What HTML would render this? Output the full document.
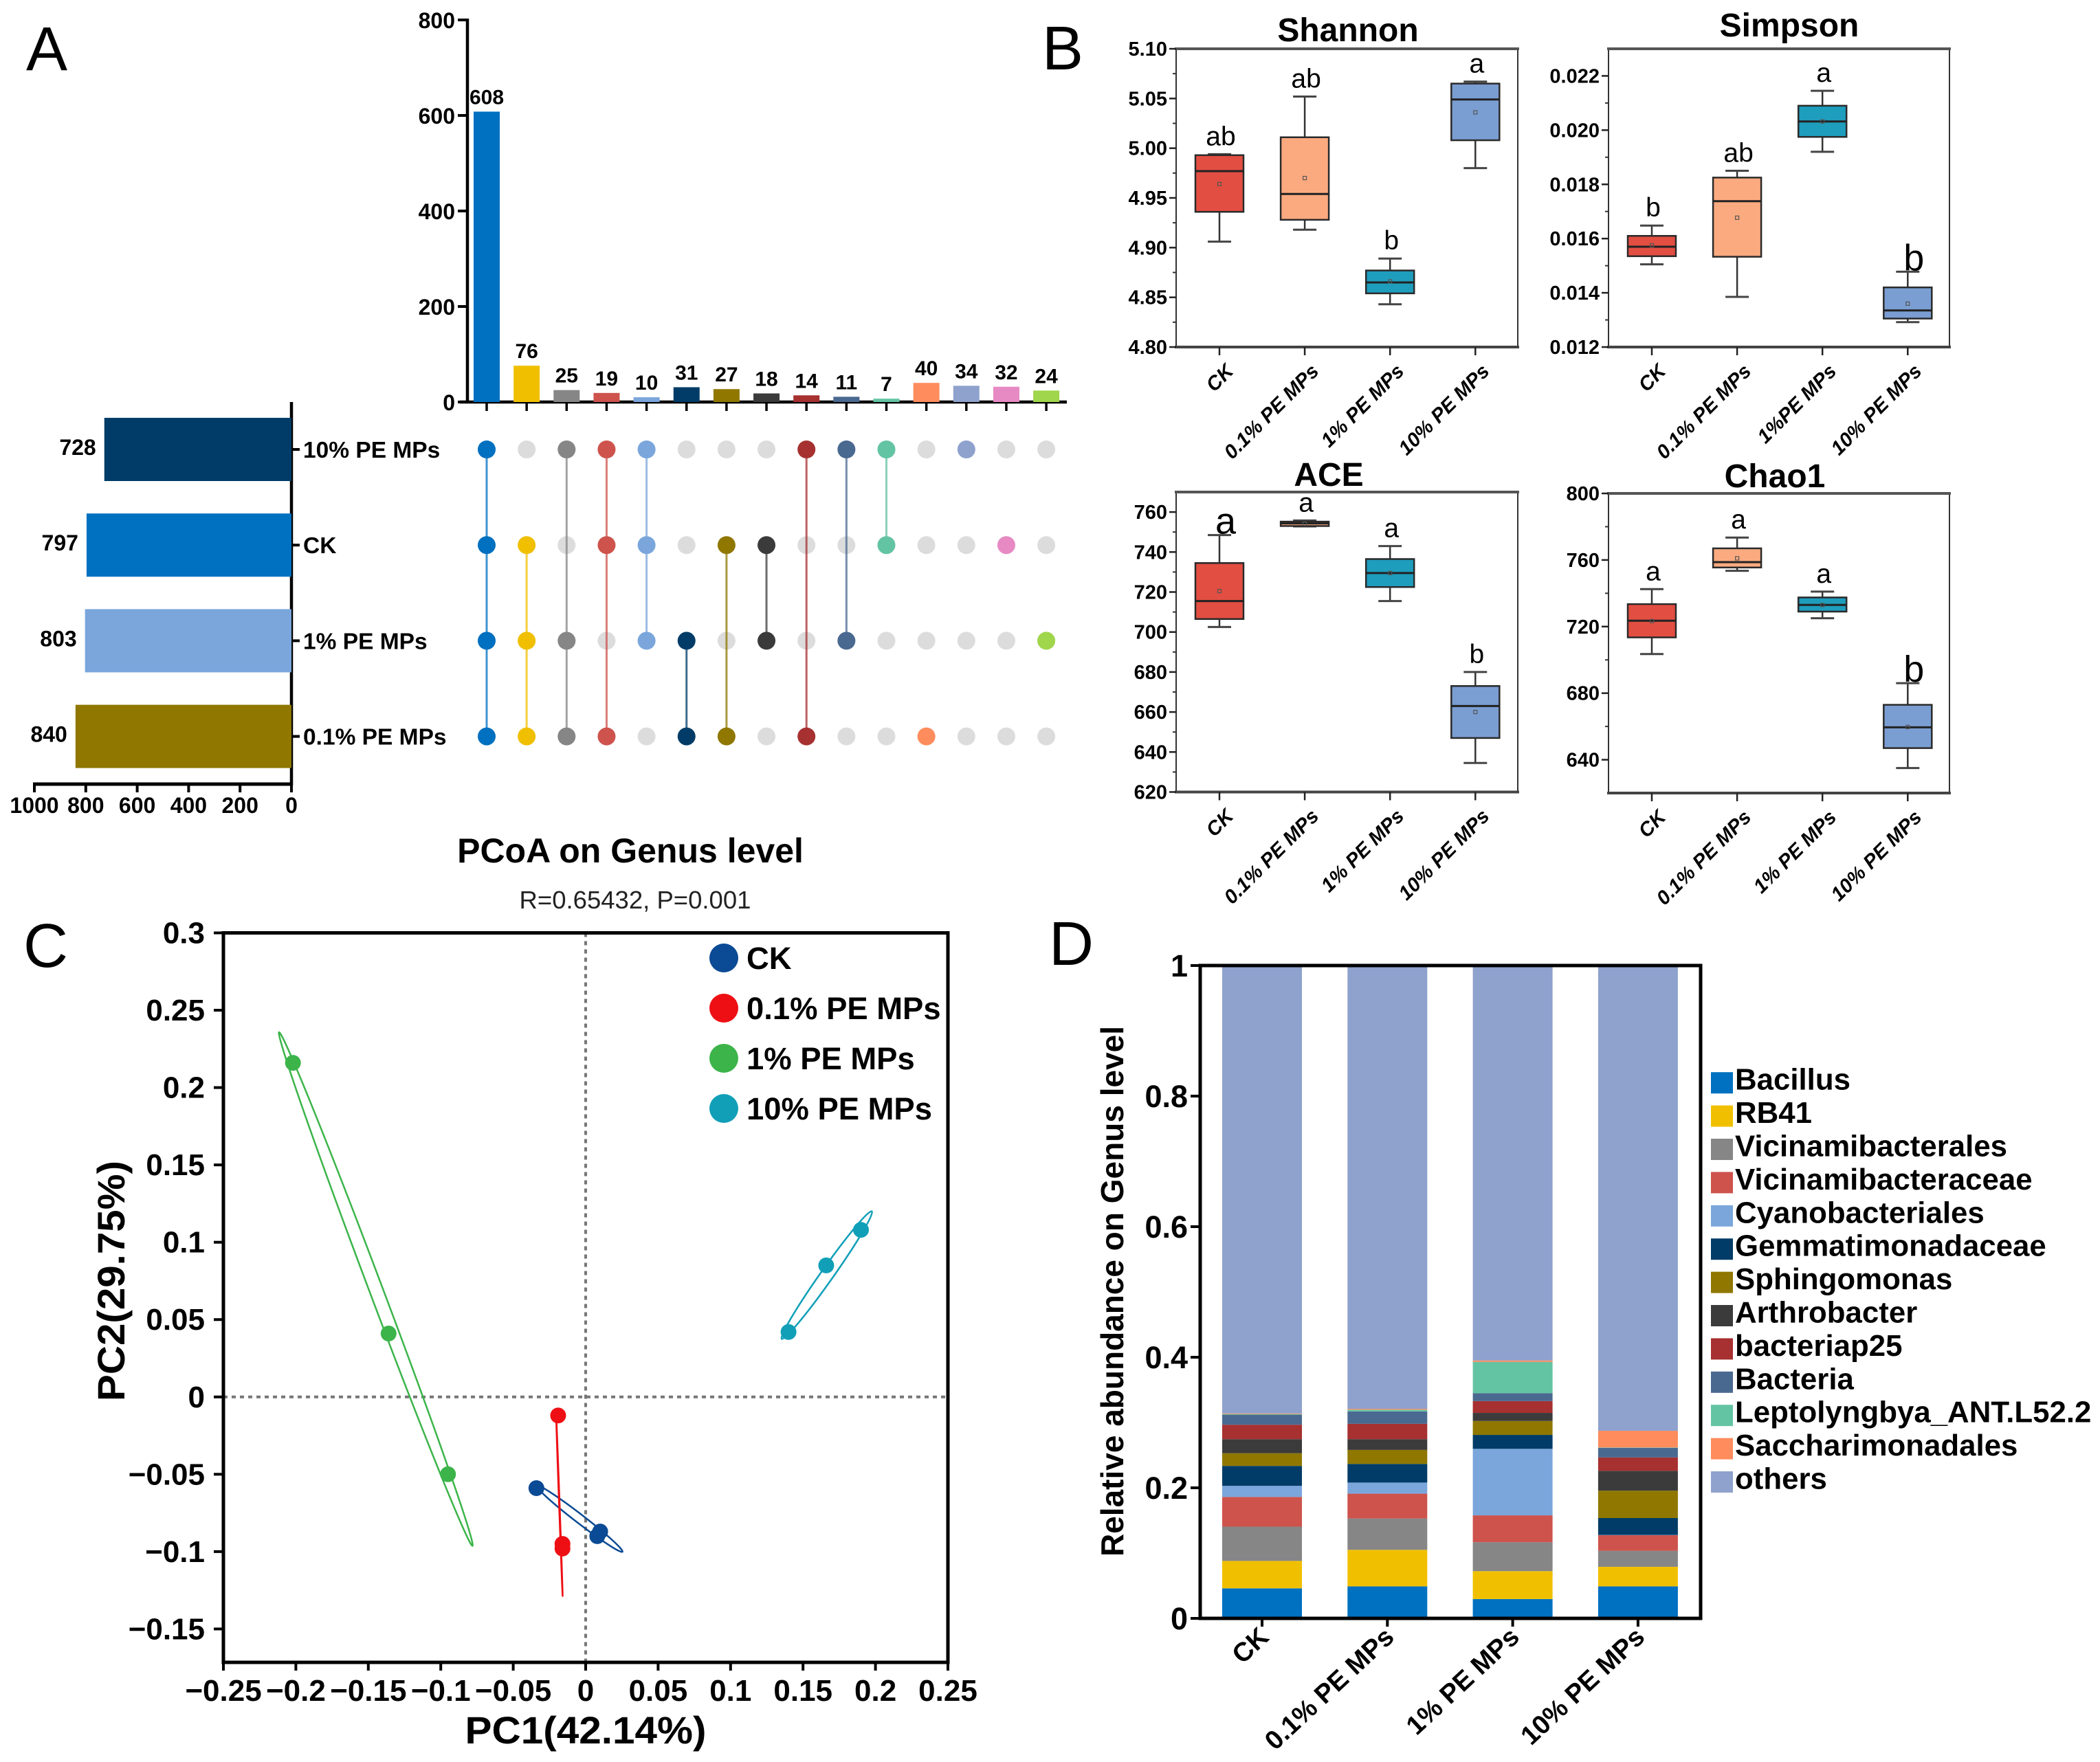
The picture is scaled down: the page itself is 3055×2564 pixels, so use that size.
<!DOCTYPE html>
<html lang="en">
<head>
<meta charset="utf-8">
<title>PE MPs microbial community figure</title>
<style>
html,body{margin:0;padding:0;background:#fff;}
svg{display:block;font-family:"Liberation Sans",sans-serif;}
</style>
</head>
<body>
<svg id="fig" xmlns="http://www.w3.org/2000/svg" width="3055" height="2564" viewBox="0 0 3055 2564">
  <rect x="0" y="0" width="3055" height="2564" fill="#fff"/>
  <text x="38" y="102" font-size="90">A</text>
  <text x="1516" y="101" font-size="90">B</text>
  <text x="34" y="1407" font-size="90">C</text>
  <text x="1526" y="1404" font-size="90">D</text>

  <text x="1961" y="60" font-size="48" font-weight="bold" text-anchor="middle">Shannon</text>
  <text x="2603" y="53" font-size="48" font-weight="bold" text-anchor="middle">Simpson</text>
  <text x="1933" y="707" font-size="48" font-weight="bold" text-anchor="middle">ACE</text>
  <text x="2582" y="709" font-size="48" font-weight="bold" text-anchor="middle">Chao1</text>

  <text x="917" y="1255" font-size="50" font-weight="bold" text-anchor="middle">PCoA on Genus level</text>
  <text x="924" y="1322" font-size="36.5" fill="#222" text-anchor="middle">R=0.65432, P=0.001</text>
  <text x="852" y="2537" font-size="56" font-weight="bold" text-anchor="middle" textLength="351" lengthAdjust="spacingAndGlyphs">PC1(42.14%)</text>
  <text transform="translate(181 1864) rotate(-90)" font-size="56" font-weight="bold" text-anchor="middle" textLength="350" lengthAdjust="spacingAndGlyphs">PC2(29.75%)</text>
  <text transform="translate(1634 1879) rotate(-90)" font-size="46" font-weight="bold" text-anchor="middle">Relative abundance on Genus level</text>
  <g id="panel-a"></g>
  <g id="panel-b"></g>
  <g id="panel-c"></g>
  <g id="panel-d"></g>
</svg>
<script>
/* ---------- Panel A data ---------- */
const upsetCounts = [608, 76, 25, 19, 10, 31, 27, 18, 14, 11, 7, 40, 34, 32, 24];
const upsetTicks = [0, 200, 400, 600, 800];
const upsetSets = ['10% PE MPs', 'CK', '1% PE MPs', '0.1% PE MPs'];
const upsetSetSizes = [728, 797, 803, 840];
const upsetSizeTicks = [0, 200, 400, 600, 800, 1000];
const upsetMembers = [
  [0, 1, 2, 3], [1, 2, 3], [0, 2, 3], [0, 1, 3], [0, 1, 2],
  [2, 3], [1, 3], [1, 2], [0, 3], [0, 2], [0, 1],
  [3], [0], [1], [2]
];
const upsetColors = ['#0070c0', '#f0c000', '#868686', '#cd534c', '#7aa6dc', '#003c67', '#8f7700', '#3b3b3b', '#a73030', '#4a6990', '#63c4a4', '#ff8c5c', '#8fa1cd', '#e78ac3', '#a0d64b'];
const upsetSetColors = ['#003c67', '#0070c0', '#7aa6dc', '#8f7700'];

/* ---------- Panel B data ---------- */
const boxCategories = ['CK', '0.1% PE MPs', '1% PE MPs', '10% PE MPs'];
const simpsonCategories = ['CK', '0.1% PE MPs', '1%PE MPs', '10% PE MPs'];
const boxColors = ['#e24e42', '#fbaa80', '#1e9dbd', '#7a9ed2'];

const shannonLow = [4.906, 4.918, 4.843, 4.980];
const shannonQ1 = [4.936, 4.928, 4.854, 5.008];
const shannonMedian = [4.977, 4.954, 4.865, 5.049];
const shannonQ3 = [4.993, 5.011, 4.877, 5.065];
const shannonHigh = [4.994, 5.052, 4.889, 5.067];
const shannonMean = [4.964, 4.970, 4.866, 5.036];
const shannonSig = ['ab', 'ab', 'b', 'a'];
const shannonTicks = ['4.80', '4.85', '4.90', '4.95', '5.00', '5.05', '5.10'];

const simpsonLow = [0.01505, 0.01385, 0.0192, 0.01292];
const simpsonQ1 = [0.01535, 0.01533, 0.01975, 0.01305];
const simpsonMedian = [0.0157, 0.01738, 0.02032, 0.01335];
const simpsonQ3 = [0.0161, 0.01825, 0.0209, 0.0142];
const simpsonHigh = [0.01648, 0.0185, 0.02145, 0.01478];
const simpsonMean = [0.01575, 0.01677, 0.02032, 0.0136];
const simpsonSig = ['b', 'ab', 'a', 'b'];
const simpsonTicks = ['0.012', '0.014', '0.016', '0.018', '0.020', '0.022'];

const aceLow = [702.5, 752.8, 715.5, 634.5];
const aceQ1 = [706.5, 753, 722.5, 647];
const aceMedian = [715.5, 754.3, 729.5, 663];
const aceQ3 = [734.5, 755.2, 736.5, 673];
const aceHigh = [748.5, 755.8, 743, 680];
const aceMean = [720.5, 754.2, 729.5, 660];
const aceSig = ['a', 'a', 'a', 'b'];
const aceTicks = ['620', '640', '660', '680', '700', '720', '740', '760'];

const chaoLow = [703.5, 753.5, 725, 635];
const chaoQ1 = [713.5, 755.5, 729, 647];
const chaoMedian = [723.5, 758.7, 733, 659.5];
const chaoQ3 = [733.5, 767, 737.5, 673];
const chaoHigh = [742.5, 773.5, 741, 686];
const chaoMean = [723.3, 761, 733, 659.7];
const chaoSig = ['a', 'a', 'a', 'b'];
const chaoTicks = ['640', '680', '720', '760', '800'];

/* ---------- Panel C data ---------- */
const pcoaGroups = ['CK', '0.1% PE MPs', '1% PE MPs', '10% PE MPs'];
const pcoaColors = ['#0b4a94', '#ee0f14', '#3cb44a', '#119fb8'];
const ckPC1 = [-0.034, 0.010, 0.008];
const ckPC2 = [-0.059, -0.087, -0.090];
const lowPC1 = [-0.019, -0.016, -0.016];
const lowPC2 = [-0.012, -0.095, -0.098];
const midPC1 = [-0.202, -0.136, -0.095];
const midPC2 = [0.216, 0.041, -0.050];
const highPC1 = [0.140, 0.166, 0.190];
const highPC2 = [0.042, 0.085, 0.108];
const ckEllipsePC1 = [-0.034, 0.0254];
const ckEllipsePC2 = [-0.0572, -0.1001];
const lowEllipsePC1 = [-0.0204, -0.0159];
const lowEllipsePC2 = [-0.0108, -0.1287];
const midEllipsePC1 = [-0.2116, -0.0781];
const midEllipsePC2 = [0.2358, -0.0963];
const highEllipsePC1 = [0.1353, 0.1975];
const highEllipsePC2 = [0.0375, 0.120];
const ellipseAspect = [0.08, 0.003, 0.0245, 0.08];
const pcoaXTicks = [-0.25, -0.2, -0.15, -0.1, -0.05, 0, 0.05, 0.1, 0.15, 0.2, 0.25];
const pcoaYTicks = [-0.15, -0.1, -0.05, 0, 0.05, 0.1, 0.15, 0.2, 0.25, 0.3];

/* ---------- Panel D data ---------- */
const genusCategories = ['CK', '0.1% PE MPs', '1% PE MPs', '10% PE MPs'];
const genusNames = ['Bacillus', 'RB41', 'Vicinamibacterales', 'Vicinamibacteraceae', 'Cyanobacteriales', 'Gemmatimonadaceae', 'Sphingomonas', 'Arthrobacter', 'bacteriap25', 'Bacteria', 'Leptolyngbya_ANT.L52.2', 'Saccharimonadales', 'others'];
const genusColors = ['#0070c0', '#f0c000', '#868686', '#cd534c', '#7aa6dc', '#003c67', '#8f7700', '#3b3b3b', '#a73030', '#4a6990', '#63c4a4', '#ff8c5c', '#8fa1cd'];
const bacillus = [0.046, 0.049, 0.0296, 0.049];
const rb41 = [0.042, 0.056, 0.0427, 0.030];
const vicinamibacterales = [0.0525, 0.048, 0.0444, 0.0245];
const vicinamibacteraceae = [0.0455, 0.038, 0.0411, 0.0239];
const cyanobacteriales = [0.017, 0.017, 0.1019, 0.0005];
const gemmatimonadaceae = [0.0305, 0.0286, 0.0213, 0.0258];
const sphingomonas = [0.0195, 0.0214, 0.0214, 0.0419];
const arthrobacter = [0.0215, 0.0165, 0.0123, 0.0304];
const bacteriap25 = [0.0221, 0.0235, 0.0181, 0.0205];
const bacteria = [0.0154, 0.019, 0.0122, 0.0148];
const leptolyngbya = [0.001, 0.0026, 0.0478, 0.0005];
const saccharimonadales = [0.001, 0.0014, 0.0022, 0.0255];
const others = [0.686, 0.679, 0.605, 0.7132];
const genusTicks = ['0', '0.2', '0.4', '0.6', '0.8', '1'];

/* ---------- helpers ---------- */
const NS = 'http://www.w3.org/2000/svg';
function add(parent, tag, attrs, name, text) {
  const el = document.createElementNS(NS, tag);
  for (const k in attrs) el.setAttribute(k, attrs[k]);
  
  
  if (text !== undefined) el.textContent = text;
  parent.appendChild(el);
  return el;
}
function line(p, x1, y1, x2, y2, stroke, w, name, extra) {
  return add(p, 'line', Object.assign({x1, y1, x2, y2, stroke, 'stroke-width': w}, extra || {}), name);
}
function scale(d0, d1, r0, r1) {
  return v => r0 + (v - d0) / (d1 - d0) * (r1 - r0);
}

/* ---------- Panel A ---------- */
(function () {
  const g = document.getElementById('panel-a');
  const y = scale(0, 800, 585, 29);
  const colX = i => 708 + i * 58.15;
  const rowY = i => 654 + i * 139.2;
  const sizeX = scale(0, 1000, 424, 50);

  line(g, 680, 27, 680, 587, '#000', 4.5, 'intersection-y-axis');
  line(g, 669, 585, 1552, 585, '#000', 4.5, 'intersection-x-axis');
  upsetTicks.forEach(t => {
    line(g, 666, y(t), 680, y(t), '#000', 4, 'intersection-y-tick');
    add(g, 'text', {x: 662, y: y(t) + 12, 'font-size': 32, 'font-weight': 'bold', 'text-anchor': 'end'}, 'intersection-y-tick-label', t);
  });
  upsetCounts.forEach((c, i) => {
    const x = colX(i);
    add(g, 'rect', {x: x - 19, y: y(c), width: 38, height: 585 - y(c), fill: upsetColors[i]}, 'intersection-bar');
    line(g, x, 587, x, 598, '#000', 3.5, 'intersection-x-tick');
    add(g, 'text', {x: x, y: y(c) - 11, 'font-size': 30, 'font-weight': 'bold', 'text-anchor': 'middle'}, 'intersection-count-label', c);
  });

  line(g, 424, 585, 424, 1143, '#000', 4.5, 'set-size-y-axis');
  line(g, 48, 1141, 426, 1141, '#000', 5, 'set-size-x-axis');
  upsetSizeTicks.forEach(t => {
    line(g, sizeX(t), 1141, sizeX(t), 1153, '#000', 4, 'set-size-x-tick');
    add(g, 'text', {x: sizeX(t), y: 1183, 'font-size': 32, 'font-weight': 'bold', 'text-anchor': 'middle'}, 'set-size-x-tick-label', t);
  });
  upsetSets.forEach((s, r) => {
    const yy = rowY(r);
    add(g, 'rect', {x: sizeX(upsetSetSizes[r]), y: yy - 46, width: 424 - sizeX(upsetSetSizes[r]), height: 92, fill: upsetSetColors[r]}, 'set-size-bar');
    add(g, 'text', {x: sizeX(upsetSetSizes[r]) - 12, y: yy + 8, 'font-size': 32, 'font-weight': 'bold', 'text-anchor': 'end'}, 'set-size-label', upsetSetSizes[r]);
    line(g, 426, yy, 436, yy, '#000', 4, 'set-row-tick');
    add(g, 'text', {x: 441, y: yy + 12, 'font-size': 33.5, 'font-weight': 'bold'}, 'set-row-label', s);
  });
  upsetMembers.forEach((members, i) => {
    const x = colX(i);
    upsetSets.forEach((s, r) => {
      add(g, 'circle', {cx: x, cy: rowY(r), r: 13, fill: '#dcdcdc'}, 'matrix-empty-dot');
    });
    if (members.length > 1) {
      const a = Math.min(...members), b = Math.max(...members);
      line(g, x, rowY(a), x, rowY(b), upsetColors[i], 3, 'matrix-connector', {opacity: 0.75});
    }
    members.forEach(r => {
      add(g, 'circle', {cx: x, cy: rowY(r), r: 13, fill: upsetColors[i]}, 'matrix-filled-dot');
    });
  });
})();

/* ---------- Panel B ---------- */
function boxPanel(o) {
  const g = add(document.getElementById('panel-b'), 'g', {}, o.name + '-boxplot');
  const y = scale(o.d0, o.d1, o.bottom, o.top);
  const cx = i => o.left + 63 + i * 124.1;

  add(g, 'rect', {x: o.left, y: o.top, width: o.right - o.left, height: o.bottom - o.top, fill: '#fff', stroke: '#333', 'stroke-width': 2}, o.name + '-frame');
  line(g, o.left - 2, o.top, o.right + 2, o.top, '#555', 4, o.name + '-top-border');
  line(g, o.left - 2, o.bottom, o.right + 2, o.bottom, '#444', 4, o.name + '-bottom-border');

  o.minor.forEach(v => {
    line(g, o.left - 5, y(v), o.left, y(v), '#333', 2, o.name + '-minor-tick');
  });
  o.ticks.forEach(t => {
    const v = parseFloat(t);
    line(g, o.left - 10, y(v), o.left, y(v), '#222', 2.5, o.name + '-y-tick');
    add(g, 'text', {x: o.left - 13, y: y(v) + 10, 'font-size': 29, 'font-weight': 'bold', 'text-anchor': 'end'}, o.name + '-y-tick-label', t);
  });

  o.cats.forEach((c, i) => {
    const x = cx(i);
    line(g, x, o.bottom, x, o.bottom + 12, '#222', 2.5, o.name + '-x-tick');
    const ax = x + 22, ay = o.bottom + 37;
    add(g, 'text', {x: ax, y: ay, 'font-size': 29, 'font-weight': 'bold', 'font-style': 'italic', 'text-anchor': 'end', transform: 'rotate(-45 ' + ax + ' ' + ay + ')'}, o.name + '-x-tick-label', c);

    line(g, x, y(o.high[i]), x, y(o.low[i]), '#333', 2.5, o.name + '-whisker');
    line(g, x - 17, y(o.high[i]), x + 17, y(o.high[i]), '#444', 3, o.name + '-whisker-cap-high');
    line(g, x - 17, y(o.low[i]), x + 17, y(o.low[i]), '#444', 3, o.name + '-whisker-cap-low');
    add(g, 'rect', {x: x - 35, y: y(o.q3[i]), width: 70, height: y(o.q1[i]) - y(o.q3[i]), fill: boxColors[i], stroke: '#2a2a2a', 'stroke-width': 2.5}, o.name + '-box');
    line(g, x - 35, y(o.median[i]), x + 35, y(o.median[i]), '#222', 3, o.name + '-median');
    add(g, 'rect', {x: x - 2.5, y: y(o.mean[i]) - 2.5, width: 5, height: 5, fill: 'none', stroke: '#555', 'stroke-width': 1.2}, o.name + '-mean-marker');

    const big = o.bigSig.indexOf(i) >= 0;
    add(g, 'text', {x: x + (big ? 9 : 2), y: y(o.high[i]) - (big ? 2 : 13), 'font-size': big ? 54 : 39, 'text-anchor': 'middle'}, o.name + '-significance-letter', o.sig[i]);
  });
}
boxPanel({name: 'shannon', left: 1711, right: 2208, top: 71, bottom: 505, d0: 4.8, d1: 5.1, cats: boxCategories,
  low: shannonLow, q1: shannonQ1, median: shannonMedian, q3: shannonQ3, high: shannonHigh, mean: shannonMean, sig: shannonSig, bigSig: [],
  ticks: shannonTicks, minor: [4.825, 4.875, 4.925, 4.975, 5.025, 5.075]});
boxPanel({name: 'simpson', left: 2340, right: 2836, top: 71, bottom: 505, d0: 0.012, d1: 0.023, cats: simpsonCategories,
  low: simpsonLow, q1: simpsonQ1, median: simpsonMedian, q3: simpsonQ3, high: simpsonHigh, mean: simpsonMean, sig: simpsonSig, bigSig: [3],
  ticks: simpsonTicks, minor: [0.013, 0.015, 0.017, 0.019, 0.021]});
boxPanel({name: 'ace', left: 1711, right: 2208, top: 716, bottom: 1152.5, d0: 620, d1: 770, cats: boxCategories,
  low: aceLow, q1: aceQ1, median: aceMedian, q3: aceQ3, high: aceHigh, mean: aceMean, sig: aceSig, bigSig: [0],
  ticks: aceTicks, minor: [630, 650, 670, 690, 710, 730, 750]});
boxPanel({name: 'chao1', left: 2340, right: 2836, top: 718, bottom: 1154, d0: 620, d1: 800, cats: boxCategories,
  low: chaoLow, q1: chaoQ1, median: chaoMedian, q3: chaoQ3, high: chaoHigh, mean: chaoMean, sig: chaoSig, bigSig: [3],
  ticks: chaoTicks, minor: [660, 700, 740, 780]});

/* ---------- Panel C ---------- */
(function () {
  const g = document.getElementById('panel-c');
  const left = 325, right = 1379, top = 1357.5, bottom = 2419;
  const x = scale(-0.25, 0.25, left, right);
  const y = scale(-0.1716, 0.3, bottom, top);
  const fmt = v => (v < 0 ? '\u2212' : '') + Math.abs(v);

  line(g, x(0), top, x(0), bottom, '#777', 4, 'pcoa-zero-vertical-line', {'stroke-dasharray': '6 6'});
  line(g, left, y(0), right, y(0), '#777', 4, 'pcoa-zero-horizontal-line', {'stroke-dasharray': '6 6'});

  pcoaXTicks.forEach(t => {
    line(g, x(t), bottom, x(t), bottom + 12, '#000', 4, 'pcoa-x-tick');
    add(g, 'text', {x: x(t), y: 2475, 'font-size': 44, 'font-weight': 'bold', 'text-anchor': 'middle'}, 'pcoa-x-tick-label', fmt(t));
  });
  pcoaYTicks.forEach(t => {
    line(g, left - 14, y(t), left, y(t), '#000', 4, 'pcoa-y-tick');
    add(g, 'text', {x: 298, y: y(t) + 15, 'font-size': 44, 'font-weight': 'bold', 'text-anchor': 'end'}, 'pcoa-y-tick-label', fmt(t));
  });

  const ellipses = [[ckEllipsePC1, ckEllipsePC2], [lowEllipsePC1, lowEllipsePC2], [midEllipsePC1, midEllipsePC2], [highEllipsePC1, highEllipsePC2]];
  const points = [[ckPC1, ckPC2], [lowPC1, lowPC2], [midPC1, midPC2], [highPC1, highPC2]];
  pcoaGroups.forEach((name, i) => {
    const ex = ellipses[i][0], ey = ellipses[i][1];
    const x1 = x(ex[0]), y1 = y(ey[0]), x2 = x(ex[1]), y2 = y(ey[1]);
    const len = Math.hypot(x2 - x1, y2 - y1);
    const ang = Math.atan2(y2 - y1, x2 - x1) * 180 / Math.PI;
    const mx = (x1 + x2) / 2, my = (y1 + y2) / 2;
    add(g, 'ellipse', {cx: mx, cy: my, rx: len / 2, ry: len / 2 * ellipseAspect[i], fill: 'none', stroke: pcoaColors[i], 'stroke-width': 2.5, transform: 'rotate(' + ang + ' ' + mx + ' ' + my + ')'}, 'pcoa-confidence-ellipse');
    points[i][0].forEach((v, j) => {
      add(g, 'circle', {cx: x(v), cy: y(points[i][1][j]), r: 11.5, fill: pcoaColors[i]}, 'pcoa-sample-point');
    });
    add(g, 'circle', {cx: 1053, cy: 1394 + i * 73, r: 21, fill: pcoaColors[i]}, 'pcoa-legend-marker');
    add(g, 'text', {x: 1086, y: 1410 + i * 73, 'font-size': 45.4, 'font-weight': 'bold'}, 'pcoa-legend-label', name);
  });

  add(g, 'rect', {x: left, y: top, width: right - left, height: bottom - top, fill: 'none', stroke: '#000', 'stroke-width': 5}, 'pcoa-plot-frame');
})();

/* ---------- Panel D ---------- */
(function () {
  const g = document.getElementById('panel-d');
  const left = 1746, right = 2474, top = 1405, bottom = 2355;
  const y = scale(0, 1, bottom, top);
  const cx = i => 1836 + i * 182.3;
  const series = [bacillus, rb41, vicinamibacterales, vicinamibacteraceae, cyanobacteriales, gemmatimonadaceae, sphingomonas, arthrobacter, bacteriap25, bacteria, leptolyngbya, saccharimonadales, others];

  genusCategories.forEach((c, i) => {
    let cum = 0;
    series.forEach((s, k) => {
      const y0 = y(cum), y1 = y(cum + s[i]);
      add(g, 'rect', {x: cx(i) - 58, y: y1, width: 116, height: y0 - y1, fill: genusColors[k]}, 'stack-segment-' + genusNames[k].toLowerCase().replace(/[^a-z0-9]+/g, '-'));
      cum += s[i];
    });
    line(g, cx(i), bottom, cx(i), bottom + 12, '#000', 4, 'genus-x-tick');
    const ax = cx(i) + 12, ay = bottom + 30;
    add(g, 'text', {x: ax, y: ay, 'font-size': 38.5, 'font-weight': 'bold', 'text-anchor': 'end', transform: 'rotate(-43 ' + ax + ' ' + ay + ')'}, 'genus-x-tick-label', c);
  });

  genusTicks.forEach(t => {
    const v = parseFloat(t);
    line(g, left - 14, y(v), left, y(v), '#000', 4, 'genus-y-tick');
    add(g, 'text', {x: 1728, y: y(v) + 16, 'font-size': 45, 'font-weight': 'bold', 'text-anchor': 'end'}, 'genus-y-tick-label', t);
  });
  add(g, 'rect', {x: left, y: top, width: right - left, height: bottom - top, fill: 'none', stroke: '#000', 'stroke-width': 5}, 'genus-plot-frame');

  genusNames.forEach((n, k) => {
    const yy = 1575.7 + k * 48.4;
    add(g, 'rect', {x: 2489, y: yy - 15.5, width: 32, height: 31, fill: genusColors[k]}, 'genus-legend-swatch');
    add(g, 'text', {x: 2524, y: yy + 10, 'font-size': 43.8, 'font-weight': 'bold'}, 'genus-legend-label', n);
  });
})();
</script>
</body>
</html>
